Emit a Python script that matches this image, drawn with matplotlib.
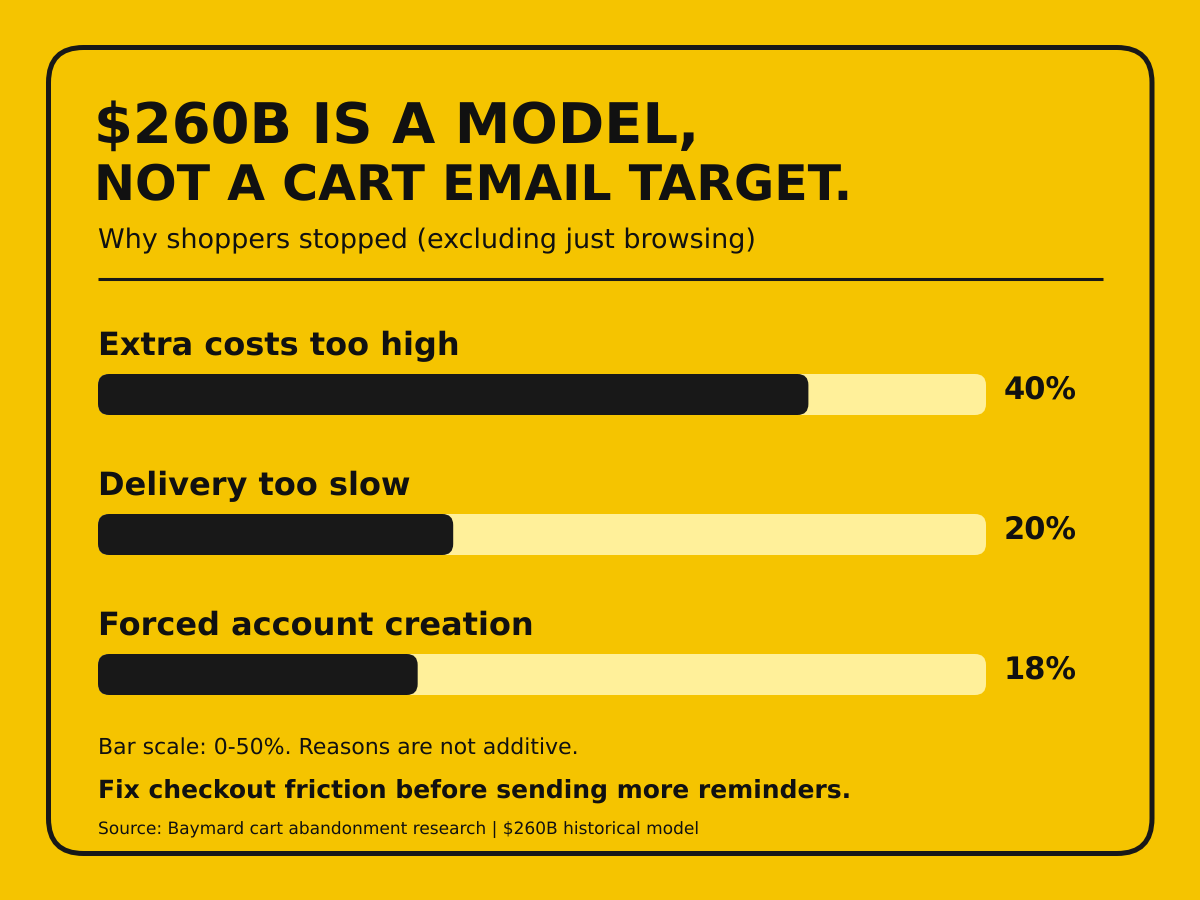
import matplotlib
matplotlib.use("Agg")
import matplotlib.pyplot as plt
from matplotlib.patches import FancyBboxPatch

reasons = ["Extra costs too high", "Delivery too slow", "Forced account creation"]
values = [40, 20, 18]
scale_max = 50

BG = "#F5C400"
INK = "#181818"
TEXT = "#111111"
TRACK = "#FFF09A"

# hinting makes the text widths jump between sizes
plt.rcParams["text.hinting"] = "no_hinting"

fig = plt.figure(figsize=(12, 9), dpi=100, facecolor=BG)

# full figure axes in pixels, y pointing down
ax = fig.add_axes([0, 0, 1, 1])
ax.set_xlim(0, 1200)
ax.set_ylim(900, 0)
ax.axis("off")

ax.add_patch(FancyBboxPatch((48.5, 47.5), 1103.5, 806, boxstyle="round,pad=0,rounding_size=35",
                            fc="none", ec=INK, lw=3.6))

ax.text(94, 143, "$260B IS A MODEL,", fontsize=40.25, fontweight="bold", color=TEXT)
ax.text(94, 200.5, "NOT A CART EMAIL TARGET.", fontsize=35.25, fontweight="bold", color=TEXT)
ax.text(98, 248, "Why shoppers stopped (excluding just browsing)", fontsize=19.45, color=TEXT)
ax.plot([98, 1103], [279, 279], color=INK, lw=2.2, solid_capstyle="butt")

# bars get their own axes so x is the 0-50% scale
bar_ax = fig.add_axes([98 / 1200, 0, 888 / 1200, 1])
bar_ax.set_xlim(0, scale_max)
bar_ax.set_ylim(900, 0)
bar_ax.axis("off")
bar_ax.patch.set_alpha(0)
px_per_unit = 888 / scale_max

for i, (name, val) in enumerate(zip(reasons, values)):
    top = 374 + i * 140
    for w, col in [(scale_max, TRACK), (val, INK)]:
        bar_ax.add_patch(FancyBboxPatch((0, top), w, 41,
                                        boxstyle=f"round,pad=0,rounding_size={11 / px_per_unit}",
                                        mutation_aspect=px_per_unit, fc=col, ec="none"))
    ax.text(98, top - 19, name, fontsize=23.04, fontweight="bold", color=TEXT)
    ax.text(1004, top + 25, f"{val}%", fontsize=22, fontweight="bold", color=TEXT)

ax.text(98, 755, "Bar scale: 0-50%. Reasons are not additive.", fontsize=15.8, color=TEXT)
ax.text(98, 797.5, "Fix checkout friction before sending more reminders.", fontsize=18, fontweight="bold", color=TEXT)
ax.text(98, 835, "Source: Baymard cart abandonment research | \\$260B historical model",
        fontsize=12.25, color=TEXT)

fig.savefig("out.png", dpi=100, facecolor=BG)
